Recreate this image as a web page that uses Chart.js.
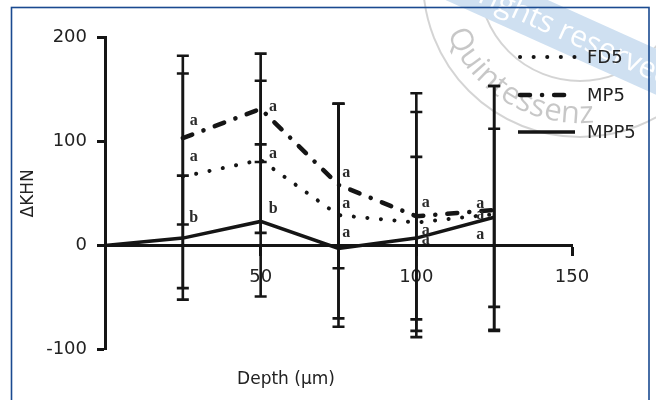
<!DOCTYPE html>
<html><head><meta charset="utf-8">
<script src="https://cdn.jsdelivr.net/npm/chart.js@4.4.0/dist/chart.umd.min.js"></script>
<style>html,body{margin:0;padding:0;background:#fff}#wrap{width:656px;height:400px}</style>
</head><body><div id="wrap"><canvas id="c" width="656" height="400"></canvas></div>
<script>
// ---- data ----
const depth = [0, 25, 50, 75, 100, 125];
const fd5 = [null, 66, 82, 29, 22, 30];
const mp5 = [null, 103, 131, 58, 28, 34];
const mpp5 = [0, 7, 23, -3, 7, 27];
const fd5Hi = [null, 165, 158, 136, 128, 153];
const fd5Lo = [null, -41, 12, -70, -82, -82];
const mp5Hi = [null, 182, 184, 136, 146, 153];
const mp5Lo = [null, 20, 80, -22, -88, -81];
const mpp5Hi = [null, 67, 97, 136, 85, 112];
const mpp5Lo = [null, -52, -49, -78, -71, -59];
const xTicks = [50, 100, 150];
const yTicks = [-100, 0, 100, 200];
const seriesNames = ['FD5', 'MP5', 'MPP5'];
const letterX = [28.5, 28.5, 28.5, 54, 54, 54, 77.5, 77.5, 77.5, 103, 103, 103, 120.5, 120.5, 120.5];
const letterY = [120, 85, 26, 133, 88, 35, 70, 40, 12.5, 41, 14, 5, 40, 29, 10];
const letterT = ['a','a','b','a','a','b','a','a','a','a','a','a','a','a','a'];

const INK = '#151515';
const pts = arr => depth.map((d, i) => ({x: d, y: arr[i]}));

const styles = [
  {borderWidth: 4, borderDash: [0.1, 13.5], borderCapStyle: 'round'},
  {borderWidth: 4.5, borderDash: [10, 12, 0.1, 12], borderCapStyle: 'round'},
  {borderWidth: 3.5, borderDash: [], borderCapStyle: 'butt'}
];
const series = [fd5, mp5, mpp5];
const his = [fd5Hi, mp5Hi, mpp5Hi];
const los = [fd5Lo, mp5Lo, mpp5Lo];

const datasets = series.map((s, k) => Object.assign({
  label: seriesNames[k], data: pts(s), borderColor: INK, backgroundColor: INK,
  pointRadius: 0, tension: 0, fill: false, spanGaps: false
}, styles[k]));

const decor = {
  id: 'decor',
  beforeDraw(chart) {
    const ctx = chart.ctx;
    ctx.save();
    ctx.fillStyle = '#fff';
    ctx.fillRect(0, 0, 656, 400);
    // watermark stamp
    ctx.strokeStyle = 'rgba(0,0,0,0.17)';
    ctx.lineWidth = 2;
    ctx.beginPath(); ctx.arc(580, -20, 101, 0, Math.PI * 2); ctx.stroke();
    ctx.beginPath(); ctx.arc(580, -20, 157, 0, Math.PI * 2); ctx.stroke();
    ctx.font = '31px "Open Sans"';
    ctx.fillStyle = 'rgba(0,0,0,0.22)';
    const word = 'Quintessenz';
    let ang = 158 * Math.PI / 180;
    const R = 143;
    for (const ch of word) {
      const w = ctx.measureText(ch).width;
      const half = (w / 2) / R;
      ang -= half;
      ctx.save();
      ctx.translate(580 + R * Math.cos(ang), -20 + R * Math.sin(ang));
      ctx.rotate(ang - Math.PI / 2);
      ctx.textAlign = 'center';
      ctx.textBaseline = 'alphabetic';
      ctx.fillText(ch, 0, 0);
      ctx.restore();
      ang -= half + 0.5 / R;
    }
    // ribbon
    ctx.save();
    ctx.translate(590, 42);
    ctx.rotate(Math.atan(0.45));
    ctx.fillStyle = '#cfe0f1';
    ctx.fillRect(-260, -21, 420, 42);
    ctx.fillStyle = '#fff';
    ctx.font = '30px "Open Sans"';
    ctx.textAlign = 'right';
    ctx.textBaseline = 'middle';
    ctx.fillText('All rights reserved', 90, 1);
    ctx.restore();
    // frame
    ctx.strokeStyle = '#1a4a90';
    ctx.lineWidth = 1.6;
    ctx.strokeRect(11.5, 7.5, 637.5, 400);
    ctx.restore();
  },
  beforeDatasetsDraw(chart) {
    const ctx = chart.ctx, xs = chart.scales.x, ys = chart.scales.y;
    ctx.save();
    ctx.strokeStyle = INK;
    ctx.lineWidth = 2.6;
    ctx.lineCap = 'butt';
    for (let k = 0; k < 3; k++) {
      for (let i = 0; i < depth.length; i++) {
        if (his[k][i] == null) continue;
        const px = xs.getPixelForValue(depth[i]);
        const yh = ys.getPixelForValue(his[k][i]);
        const yl = ys.getPixelForValue(los[k][i]);
        ctx.beginPath();
        ctx.moveTo(px, yh); ctx.lineTo(px, yl);
        ctx.moveTo(px - 6, yh); ctx.lineTo(px + 6, yh);
        ctx.moveTo(px - 6, yl); ctx.lineTo(px + 6, yl);
        ctx.stroke();
      }
    }
    ctx.restore();
  },
  afterDraw(chart) {
    const ctx = chart.ctx, xs = chart.scales.x, ys = chart.scales.y;
    ctx.save();
    // letters
    ctx.fillStyle = '#2a2a2a';
    ctx.font = 'bold 16px "Liberation Serif"';
    ctx.textAlign = 'center';
    ctx.textBaseline = 'middle';
    for (let i = 0; i < letterT.length; i++) {
      ctx.fillText(letterT[i], xs.getPixelForValue(letterX[i]), ys.getPixelForValue(letterY[i]));
    }
    // legend
    const ly = [57, 95, 132];
    for (let k = 0; k < 3; k++) {
      const st = styles[k];
      ctx.strokeStyle = INK;
      ctx.lineWidth = st.borderWidth;
      ctx.setLineDash(st.borderDash);
      ctx.lineCap = st.borderCapStyle;
      ctx.beginPath();
      ctx.moveTo(k === 2 ? 518 : 520, ly[k]);
      ctx.lineTo(575, ly[k]);
      ctx.stroke();
      ctx.setLineDash([]);
      ctx.fillStyle = '#222';
      ctx.font = '18px "DejaVu Sans"';
      ctx.textAlign = 'left';
      ctx.textBaseline = 'middle';
      ctx.fillText(seriesNames[k], 587, ly[k] + 1);
    }
    ctx.restore();
  }
};

new Chart(document.getElementById('c'), {
  type: 'line',
  data: {datasets},
  plugins: [decor],
  options: {
    responsive: false,
    animation: false,
    devicePixelRatio: 1,
    layout: {padding: {left: 0, right: 84, top: 37, bottom: 0}},
    plugins: {
      legend: {display: false},
      tooltip: {enabled: false},
      title: {
        display: true, position: 'bottom', text: 'Depth (\u00b5m)', color: '#222',
        font: {family: 'DejaVu Sans', size: 17, weight: 'normal'},
        padding: {top: 20, bottom: 10}
      }
    },
    scales: {
      x: {
        type: 'linear', min: 0, max: 150, position: {y: 0},
        afterBuildTicks: s => { s.ticks = xTicks.map(v => ({value: v})); },
        grid: {drawOnChartArea: false, drawTicks: true, tickLength: 9, tickWidth: 3, color: INK},
        border: {display: true, width: 3, color: INK},
        ticks: {color: '#222', font: {family: 'DejaVu Sans', size: 18}, padding: 12, maxRotation: 0}
      },
      y: {
        type: 'linear', min: -100, max: 200,
        afterBuildTicks: s => { s.ticks = yTicks.map(v => ({value: v})); },
        afterFit: s => { s.width = 105; },
        grid: {drawOnChartArea: false, drawTicks: true, tickLength: 8, tickWidth: 3, color: INK},
        border: {display: true, width: 3, color: INK},
        ticks: {color: '#222', font: {family: 'DejaVu Sans', size: 18}, padding: 10},
        title: {display: true, text: '\u0394KHN', color: '#222',
          font: {family: 'DejaVu Sans', size: 17}, padding: {top: 18, bottom: 0}}
      }
    }
  }
});
</script></body></html>
